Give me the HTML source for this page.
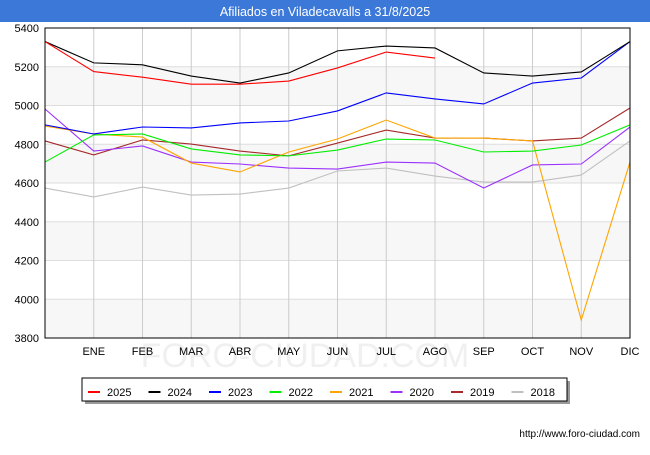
<!DOCTYPE html>
<html><head><meta charset="utf-8"><style>
body{margin:0;background:#fff;font-family:"Liberation Sans",sans-serif}
</style></head><body>
<svg width="650" height="450" xmlns="http://www.w3.org/2000/svg" font-family="Liberation Sans, sans-serif">
<rect x="0" y="0" width="650" height="22" fill="#3c78d8"/>
<text x="325" y="16" text-anchor="middle" fill="#fff" font-size="12.5">Afiliados en Viladecavalls a 31/8/2025</text>
<text x="305" y="367" text-anchor="middle" fill="#f0f0f0" font-size="34">FORO-CIUDAD.COM</text>
<g id="plot"></g>
<g id="legend"></g>
<text x="640" y="437" text-anchor="end" font-size="10" fill="#000">http://www.foro-ciudad.com</text>
</svg>
<script>
const months=["","ENE","FEB","MAR","ABR","MAY","JUN","JUL","AGO","SEP","OCT","NOV","DIC"];
const yTicks=[3800,4000,4200,4400,4600,4800,5000,5200,5400];
const seriesNames=["2025","2024","2023","2022","2021","2020","2019","2018"];
const seriesColors=["#ff0000","#000000","#0000ff","#00ee00","#ffa500","#9b30ff","#a52a2a","#c0c0c0"];
const s2025=[5330,5175,5146,5110,5110,5126,5194,5276,5245];
const s2024=[5330,5220,5210,5152,5116,5168,5282,5307,5297,5168,5152,5173,5330];
const s2023=[4900,4853,4889,4884,4910,4920,4972,5065,5034,5008,5116,5142,5330];
const s2022=[4708,4848,4853,4776,4745,4740,4770,4827,4822,4760,4765,4796,4900];
const s2021=[4894,4853,4837,4703,4657,4760,4827,4925,4832,4832,4817,3893,4708];
const s2020=[4982,4765,4791,4708,4698,4677,4672,4708,4703,4574,4693,4698,4889];
const s2019=[4817,4745,4822,4801,4765,4740,4806,4873,4832,4832,4817,4832,4987];
const s2018=[4574,4528,4579,4538,4543,4574,4662,4677,4636,4605,4605,4641,4817];
const allSeries=[s2025,s2024,s2023,s2022,s2021,s2020,s2019,s2018];
const NS="http://www.w3.org/2000/svg";
const L=45,R=630,T=28,B=338;
const x=i=>L+i*(R-L)/12;
const y=v=>B-(v-3800)*(B-T)/1600;
const plot=document.getElementById('plot');
function mk(t,a,p){const e=document.createElementNS(NS,t);for(const k in a)e.setAttribute(k,a[k]);(p||plot).appendChild(e);return e;}
for(let k=0;k<yTicks.length-1;k++){
 if(k%2==0){const r=mk('rect',{x:L,y:y(yTicks[k+1]),width:R-L,height:y(yTicks[k])-y(yTicks[k+1]),fill:'#f7f7f7'});
 
 }
}
yTicks.forEach(v=>{
 const l=mk('line',{x1:L,x2:R,y1:y(v),y2:y(v),stroke:'#ddd'});
 
 
 const t=mk('text',{x:L-6,y:y(v)+4,'text-anchor':'end','font-size':11});
 t.textContent=v;
 
 
});
months.forEach((m,i)=>{
 if(i>0){const l=mk('line',{x1:x(i),x2:x(i),y1:T,y2:B,stroke:'#ccc'});
 
 }
 const t=mk('text',{x:x(i),y:B+17,'text-anchor':'middle','font-size':11});
 t.textContent=m;
 
 
});
for(let s=allSeries.length-1;s>=0;s--){
 const p=mk('polyline',{points:allSeries[s].map((v,i)=>x(i)+','+y(v)).join(' '),fill:'none',stroke:seriesColors[s],'stroke-width':1.1});
 
 
}
const f=mk('rect',{x:L,y:T,width:R-L,height:B-T,fill:'none',stroke:'#000'});


const lg=document.getElementById('legend');
const sh=mk('rect',{x:85,y:381,width:485,height:23,fill:'#999'},lg);


const box=mk('rect',{x:82,y:378,width:485,height:23,fill:'#fff',stroke:'#000'},lg);


seriesNames.forEach((n,i)=>{
 const lx=88+i*60.5;
 const g=mk('g',{},lg);
 
 
 mk('line',{x1:lx,x2:lx+12,y1:392,y2:392,stroke:seriesColors[i],'stroke-width':2},g);
 const t=mk('text',{x:lx+19,y:396,'font-size':11},g);
 t.textContent=n;
});
</script>
</body></html>
